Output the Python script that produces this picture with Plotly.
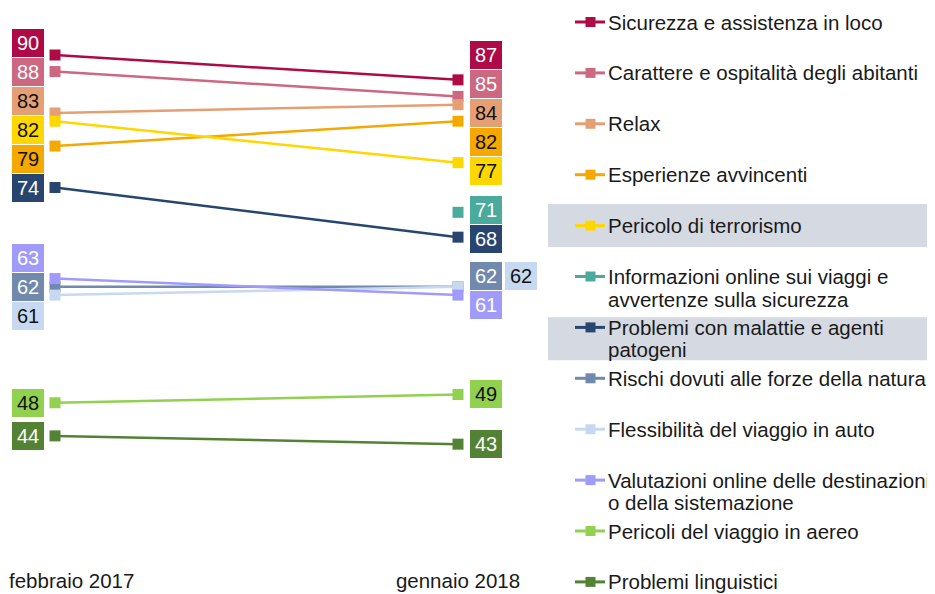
import plotly.graph_objects as go

periods = ["febbraio 2017", "gennaio 2018"]

series_names = [
    "Sicurezza e assistenza in loco",
    "Carattere e ospitalità degli abitanti",
    "Relax",
    "Esperienze avvincenti",
    "Pericolo di terrorismo",
    "Informazioni online sui viaggi e<br>avvertenze sulla sicurezza",
    "Problemi con malattie e agenti<br>patogeni",
    "Rischi dovuti alle forze della natura",
    "Flessibilità del viaggio in auto",
    "Valutazioni online delle destinazioni<br>o della sistemazione",
    "Pericoli del viaggio in aereo",
    "Problemi linguistici",
]
feb_2017 = [90, 88, 83, 79, 82, None, 74, 62, 61, 63, 48, 44]
jan_2018 = [87, 85, 84, 82, 77, 71, 68, 62, 62, 61, 49, 43]

colors = [
    "#AE0A46", "#CC6880", "#E4A074", "#F5A800", "#FFD700", "#4AAA9C",
    "#27456E", "#7089AD", "#C6D9F0", "#A09BFB", "#92D050", "#548235",
]
dark_text = {"#E4A074", "#F5A800", "#FFD700", "#C6D9F0", "#92D050"}
highlighted = [4, 6]  # legend rows with a grey band behind them

FONT = "Liberation Sans, Arial, sans-serif"
BOX = 3.5  # height of a value label box, in y units
PLOT_W, PLOT_H = 540, 558
PAGE_OFF = 8  # the page body margin shifts the figure by this much


def stack_labels(pairs):
    """Spread overlapping value labels into touching stacks centred on their values."""
    items = sorted(pairs, key=lambda p: (-p[1], p[0]))
    clusters = [[it] for it in items]
    merged = True
    while merged:
        merged = False
        for k in range(len(clusters) - 1):
            a, b = clusters[k], clusters[k + 1]
            ma = sum(v for _, v in a) / len(a)
            mb = sum(v for _, v in b) / len(b)
            if mb + len(b) * BOX / 2 > ma - len(a) * BOX / 2:
                clusters[k] = a + b
                del clusters[k + 1]
                merged = True
                break
    out = {}
    for c in clusters:
        m = sum(v for _, v in c) / len(c)
        n = len(c)
        for j, (i, _) in enumerate(c):
            out[i] = m + BOX * ((n - 1) / 2 - j)
    return out


def px(x, y):
    # screen pixel -> paper coords of the plot area
    return (x - PAGE_OFF) / PLOT_W, 1 - (y - PAGE_OFF) / PLOT_H


fig = go.Figure()
for name, a, b, col in zip(series_names, feb_2017, jan_2018, colors):
    fig.add_trace(
        go.Scatter(
            x=[0, 1],
            y=[a, b],
            name=name.replace("<br>", " "),
            mode="lines+markers",
            line=dict(color=col, width=2.5),
            marker=dict(symbol="square", size=11, color=col),
            showlegend=False,
        )
    )

# value labels: 2017 on the left, 2018 on the right (Flessibilità beside Rischi)
beside_2018 = {8: 7}
left = stack_labels([(i, v) for i, v in enumerate(feb_2017) if v is not None])
right = stack_labels([(i, v) for i, v in enumerate(jan_2018) if i not in beside_2018])
for i, key in beside_2018.items():
    right[i] = right[key]

for xpos, vals, ys, shift in [(0, feb_2017, left, -27), (1, jan_2018, right, 28)]:
    for i, v in enumerate(vals):
        if v is None:
            continue
        dx = shift + (35 if xpos == 1 and i in beside_2018 else 0)
        fig.add_annotation(
            x=xpos, y=ys[i], xshift=dx, text=str(v), showarrow=False,
            bgcolor=colors[i], width=32, height=28, borderpad=0, borderwidth=0,
            font=dict(size=20, family=FONT, color="#111111" if colors[i] in dark_text else "#FFFFFF"),
        )

# legend drawn by hand so rows keep an even pitch
row0, pitch, line_gap = 22, 50.9, 22.5
for k, (name, col) in enumerate(zip(series_names, colors)):
    yc = row0 + k * pitch
    lines = name.split("<br>")
    if k in highlighted:
        mid = yc + (len(lines) - 1) * line_gap / 2
        x0, y0 = px(548, mid - 21.5)
        x1, y1 = px(931, mid + 21.5)
        fig.add_shape(type="rect", xref="paper", yref="paper", x0=x0, x1=x1, y0=y1, y1=y0,
                      fillcolor="#D5D9E2", line=dict(width=0), layer="below")
    lx0, ly = px(575, yc)
    lx1, _ = px(605, yc)
    fig.add_shape(type="line", xref="paper", yref="paper", x0=lx0, x1=lx1, y0=ly, y1=ly,
                  line=dict(color=col, width=3))
    sx0, sy0 = px(585.5, yc - 5)
    sx1, sy1 = px(595.5, yc + 5)
    fig.add_shape(type="rect", xref="paper", yref="paper", x0=sx0, x1=sx1, y0=sy1, y1=sy0,
                  fillcolor=col, line=dict(width=0))
    for j, part in enumerate(lines):
        tx, ty = px(607, yc + j * line_gap)
        fig.add_annotation(
            x=tx, y=ty, xref="paper", yref="paper", text=part, showarrow=False,
            xanchor="left", yanchor="middle", borderpad=0,
            font=dict(size=20.5, family=FONT, color="#1A1A1A"),
        )

# first period label would run off the left edge; pin it to the edge instead
ax, ay = px(PAGE_OFF, 580)
fig.add_annotation(x=ax, y=ay, xref="paper", yref="paper", text=periods[0], showarrow=False,
                   xanchor="left", yanchor="middle", borderpad=0,
                   font=dict(size=20.5, family=FONT, color="#1A1A1A"))

# screen x of the two periods is 55 and 458, value 90 sits at screen y 55 (8.28 px per point)
x_lo = -(55 - PAGE_OFF) / 403
x_hi = (PLOT_W - (55 - PAGE_OFF)) / 403
y_hi = 90 + (55 - PAGE_OFF) / 8.28
y_lo = y_hi - PLOT_H / 8.28

fig.update_layout(
    width=935,
    height=594,
    margin=dict(l=0, r=935 - PLOT_W, t=0, b=594 - PLOT_H, autoexpand=False),
    plot_bgcolor="white",
    paper_bgcolor="white",
    font=dict(family=FONT, size=20.5, color="#1A1A1A"),
    xaxis=dict(range=[x_lo, x_hi], tickvals=[1], ticktext=periods[1:], showgrid=False,
               zeroline=False, showline=False, automargin=False, ticklabeloverflow="allow",
               tickfont=dict(size=20.5)),
    yaxis=dict(range=[y_lo, y_hi], visible=False),
    showlegend=False,
)

fig.write_html("out.html")
